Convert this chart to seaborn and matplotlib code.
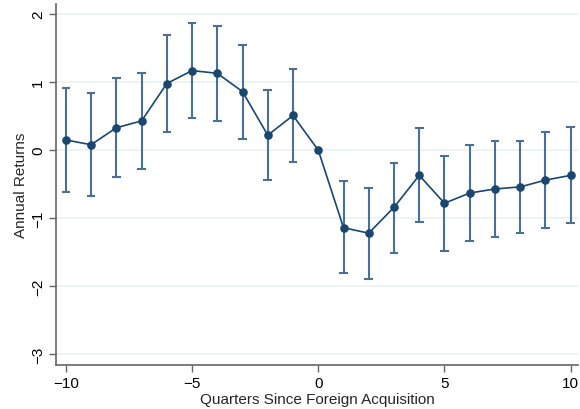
import numpy as np
import pandas as pd
import matplotlib
matplotlib.use("Agg")
import matplotlib.pyplot as plt
import seaborn as sns

# dados
quarters = list(range(-10, 11))
returns = [0.15, 0.08, 0.33, 0.43, 0.98, 1.17, 1.13, 0.86, 0.22, 0.51, 0.00,
           -1.14, -1.22, -0.84, -0.37, -0.78, -0.63, -0.57, -0.54, -0.44, -0.37]
ci_high = [0.91, 0.84, 1.06, 1.14, 1.70, 1.87, 1.82, 1.54, 0.88, 1.20, 0.00,
           -0.46, -0.55, -0.19, 0.32, -0.09, 0.07, 0.13, 0.14, 0.26, 0.34]
ci_low = [-0.62, -0.67, -0.39, -0.27, 0.27, 0.47, 0.43, 0.17, -0.44, -0.17, 0.00,
          -1.81, -1.90, -1.51, -1.05, -1.48, -1.34, -1.27, -1.22, -1.14, -1.07]

df = pd.DataFrame({"q": quarters, "ret": returns, "hi": ci_high, "lo": ci_low})

sns.set_style("white")
plt.rcParams['font.family'] = ['Liberation Sans', 'DejaVu Sans']

fig = plt.figure(figsize=(5.8, 4.1), dpi=100)
ax = fig.add_axes([0.097, 0.107, 0.9, 0.881])

# intervalos (sem o periodo 0)
ic = df[df["q"] != 0]
cor_ic = "#4a7096"
ax.vlines(ic["q"], ic["lo"], ic["hi"], color=cor_ic, lw=1.5, zorder=2)
ax.hlines(ic["hi"], ic["q"] - 0.17, ic["q"] + 0.17, color=cor_ic, lw=1.5, zorder=2)
ax.hlines(ic["lo"], ic["q"] - 0.17, ic["q"] + 0.17, color=cor_ic, lw=1.5, zorder=2)

sns.lineplot(data=df, x="q", y="ret", ax=ax, color="#1a476f", lw=1.2,
             marker="o", markersize=6.2, markeredgewidth=0, zorder=3)

ax.set_xlim(-10.38, 10.3)
ax.set_ylim(-3.16, 2.15)
ax.set_xticks([-10, -5, 0, 5, 10])
ax.set_yticks([-3, -2, -1, 0, 1, 2])
ax.set_xticklabels(["\u221210", "\u22125", "0", "5", "10"])
ax.set_yticklabels(["\u22123", "\u22122", "\u22121", "0", "1", "2"], rotation=90, va="center")
ax.grid(axis="y", color="#eaf2f3", lw=1.2, zorder=0)
ax.set_axisbelow(True)

for s in ["top", "right"]:
    ax.spines[s].set_visible(False)
for s in ["left", "bottom"]:
    ax.spines[s].set_color("#666666")
    ax.spines[s].set_linewidth(1.2)
ax.tick_params(axis="both", length=5, width=1, color="#666666", labelsize=11,
               labelcolor="black", bottom=True, left=True, pad=3)

ax.set_xlabel("Quarters Since Foreign Acquisition", fontsize=11, labelpad=1)
ax.set_ylabel("Annual Returns", fontsize=11, labelpad=2)

fig.savefig("out.png", dpi=100)
plt.close()
